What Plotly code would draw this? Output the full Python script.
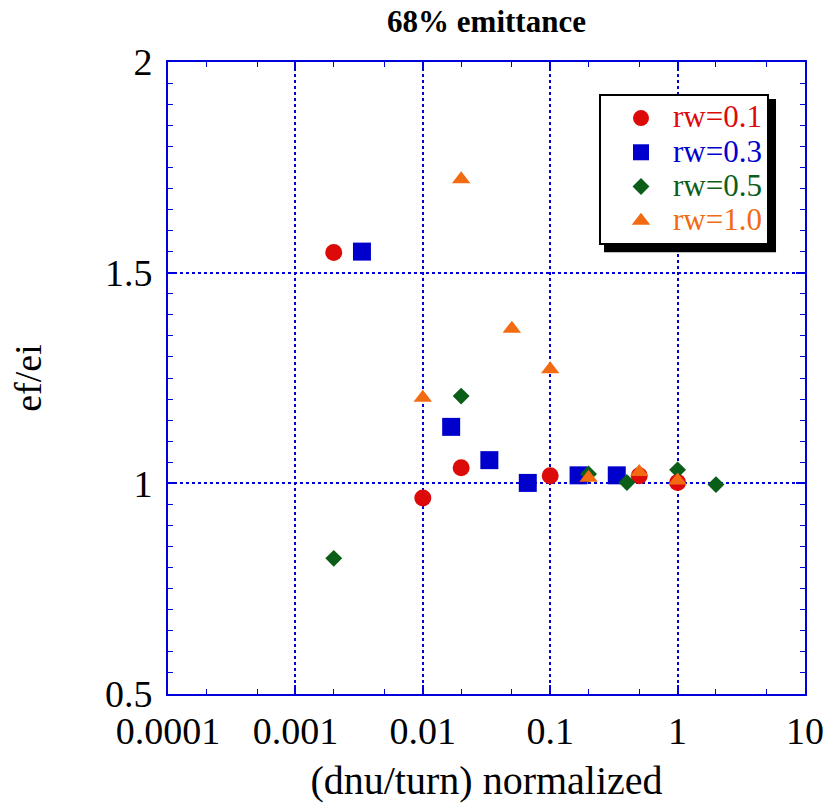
import plotly.graph_objects as go

x_rw01 = [0.002, 0.01, 0.02, 0.1, 0.5, 1.0]
y_rw01 = [1.548, 0.965, 1.037, 1.018, 1.018, 1.002]

x_rw03 = [0.00333, 0.0167, 0.0333, 0.0667, 0.167, 0.333]
y_rw03 = [1.550, 1.134, 1.055, 1.001, 1.019, 1.019]

x_rw05 = [0.002, 0.02, 0.2, 0.4, 1.0, 2.0]
y_rw05 = [0.822, 1.207, 1.022, 1.002, 1.032, 0.997]

x_rw10 = [0.01, 0.02, 0.05, 0.1, 0.2, 0.5, 1.0]
y_rw10 = [1.203, 1.722, 1.367, 1.271, 1.013, 1.027, 1.007]

x_tickvals = [0.0001, 0.001, 0.01, 0.1, 1, 10]
x_ticktext = ["0.0001", "0.001", "0.01", "0.1", "1", "10"]
y_tickvals = [0.5, 1, 1.5, 2]
y_ticktext = ["0.5", "1", "1.5", "2"]

series = [
    ("rw=0.1", x_rw01, y_rw01, "#dd0a0a", "circle", 17),
    ("rw=0.3", x_rw03, y_rw03, "#0000cc", "square", 18),
    ("rw=0.5", x_rw05, y_rw05, "#0b5e18", "diamond", 13),
    ("rw=1.0", x_rw10, y_rw10, "#f26b12", "triangle-up", 16),
]

FONT = "Liberation Serif"
BLUE = "#0000dd"

fig = go.Figure()
for name, xs, ys, col, sym, sz in series:
    fig.add_trace(go.Scatter(
        x=xs, y=ys, mode="markers",
        name=f"&nbsp;&nbsp;<span style='color:{col};font-size:31px'>{name}</span>",
        marker=dict(color=col, symbol=sym, size=sz, line=dict(width=0)),
    ))

fig.update_xaxes(
    type="log", range=[-4, 1], automargin=False,
    tickvals=x_tickvals, ticktext=x_ticktext,
    showline=True, linecolor=BLUE, linewidth=2, mirror="allticks",
    ticks="inside", ticklen=9, tickwidth=2, tickcolor=BLUE,
    showgrid=True, gridcolor=BLUE, griddash="dot", gridwidth=2,
    minor=dict(ticks="inside", ticklen=5, tickwidth=1, tickcolor=BLUE, showgrid=False),
    tickfont=dict(family=FONT, size=38, color="black"),
    ticklabelstandoff=2,
    title=dict(text="(dnu/turn) normalized", font=dict(family=FONT, size=40, color="black"), standoff=15),
    zeroline=False,
)
fig.update_yaxes(
    range=[0.5, 2], automargin=False,
    tickvals=y_tickvals, ticktext=y_ticktext,
    showline=True, linecolor=BLUE, linewidth=2, mirror="allticks",
    ticks="inside", ticklen=9, tickwidth=2, tickcolor=BLUE,
    showgrid=True, gridcolor=BLUE, griddash="dot", gridwidth=2,
    minor=dict(dtick=0.05, ticks="inside", ticklen=5, tickwidth=1, tickcolor=BLUE, showgrid=False),
    tickfont=dict(family=FONT, size=38, color="black"),
    ticklabelstandoff=6,
    title=dict(text="ef/ei", font=dict(family=FONT, size=38, color="black"), standoff=52),
    zeroline=False,
)

# legend drop shadow
fig.add_shape(type="rect", xref="paper", yref="paper",
              x0=0.6845, x1=0.9545, y0=0.699, y1=0.9415,
              fillcolor="black", line=dict(width=0), layer="above")

fig.update_layout(
    width=825, height=808,
    margin=dict(l=168, r=20, t=62, b=114),
    paper_bgcolor="white", plot_bgcolor="white",
    title=dict(text="<b>68% emittance</b>", x=0.5, xref="paper", xanchor="center",
               y=0.974, yref="container", yanchor="middle",
               font=dict(family=FONT, size=31, color="black")),
    legend=dict(x=0.6766, y=0.9494, xanchor="left", yanchor="top",
                bgcolor="white", bordercolor="black", borderwidth=2,
                font=dict(family=FONT, size=24), itemsizing="trace",
                indentation=20, tracegroupgap=0),
    showlegend=True,
)

fig.write_html(
    "out.html",
    config={"displayModeBar": False},
    post_script="document.body.style.margin='0';document.body.style.overflow='hidden';",
)
